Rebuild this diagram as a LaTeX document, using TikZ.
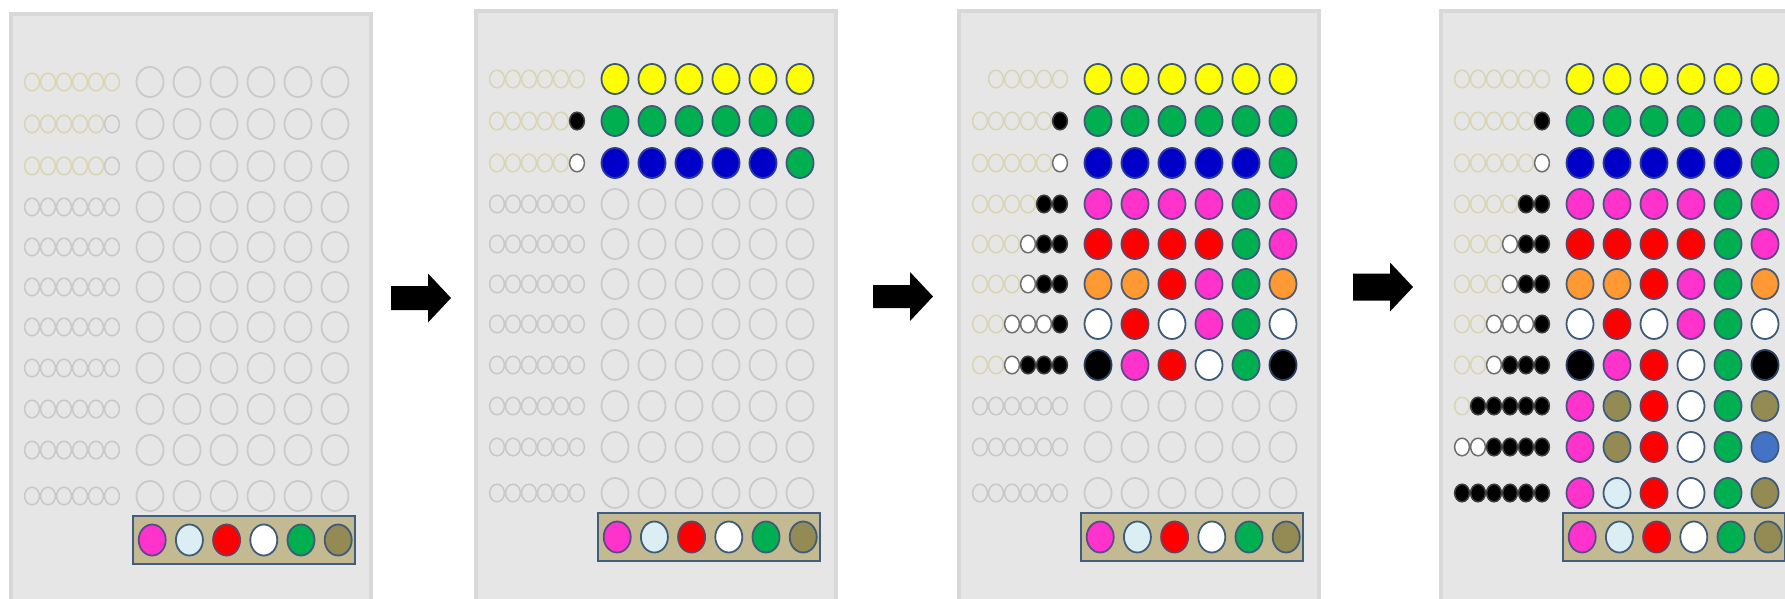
\documentclass[tikz,border=0pt]{standalone}
\definecolor{panelbg}{HTML}{E6E6E6}
\definecolor{panelbd}{HTML}{D8D8D8}
\definecolor{boxfill}{HTML}{C4BA92}
\definecolor{boxbd}{HTML}{3F5F82}
% big pegs: fill f?, outline d?
\definecolor{fY}{HTML}{FFFF00}\definecolor{dY}{HTML}{3E5B6B}
\definecolor{fG}{HTML}{00B050}\definecolor{dG}{HTML}{3E5B7B}
\definecolor{fB}{HTML}{0000C8}\definecolor{dB}{HTML}{2A3A9A}
\definecolor{fM}{HTML}{FF33CC}\definecolor{dM}{HTML}{5A4A8A}
\definecolor{fR}{HTML}{FF0000}\definecolor{dR}{HTML}{6A4060}
\definecolor{fO}{HTML}{FF9933}\definecolor{dO}{HTML}{4E5B70}
\definecolor{fW}{HTML}{FFFFFF}\definecolor{dW}{HTML}{3E5B7B}
\definecolor{fK}{HTML}{000000}\definecolor{dK}{HTML}{2A3F60}
\definecolor{fL}{HTML}{DAEEF3}\definecolor{dL}{HTML}{3E5B7B}
\definecolor{fV}{HTML}{948A54}\definecolor{dV}{HTML}{3E5B7B}
\definecolor{fS}{HTML}{4472C4}\definecolor{dS}{HTML}{3E5B7B}
\definecolor{fE}{HTML}{E6E6E6}\definecolor{dE}{HTML}{CACACA}
% key pegs
\definecolor{fkb}{HTML}{E6E6E6}\definecolor{dkb}{HTML}{D9D5B2}
\definecolor{fkg}{HTML}{E6E6E6}\definecolor{dkg}{HTML}{C8C8C8}
\definecolor{fkw}{HTML}{FFFFFF}\definecolor{dkw}{HTML}{707070}
\definecolor{fkk}{HTML}{000000}\definecolor{dkk}{HTML}{404040}
\definecolor{fkn}{HTML}{E6E6E6}\definecolor{dkn}{HTML}{E6E6E6}
\tikzset{
  keypeg/.style={line width=1.5pt},
  bigpeg/.style={line width=1.8pt},
  boardbox/.style={line width=4pt, draw=panelbd, fill=panelbg},
  codeframe/.style={line width=2pt, draw=boxbd, fill=boxfill},
  bigarrow/.style={fill=black}
}
\newcommand{\prow}[4]{%
  \foreach \kp [count=\n] in {#3} {\draw[keypeg, draw=dk\kp, fill=fk\kp] ({#1+16+16*\n},{#2}) ellipse [x radius=7.4pt, y radius=8.8pt];}
  \foreach \cp [count=\n] in {#4} {\draw[bigpeg, draw=d\cp, fill=f\cp] ({#1+113+37*\n},{#2}) ellipse [x radius=13.5pt, y radius=15pt];}
}
\newcommand{\board}[2]{\draw[boardbox] ({#1+11},{#2+11}) rectangle ({#1+371},{#2+640});}
\newcommand{\codebox}[2]{%
  \draw[codeframe] ({#1+133},{#2+513}) rectangle ({#1+355},{#2+561});
  \foreach \cp [count=\n] in {M,L,R,W,G,V} {\draw[bigpeg, draw=d\cp, fill=f\cp] ({#1+115+37.2*\n},{#2+537}) ellipse [x radius=13.5pt, y radius=15.5pt];}
}
\newcommand{\rarrow}[3]{\fill[bigarrow] ({#1},{#2-#3}) -- ({#1+37},{#2-#3}) -- ({#1+37},{#2-24.5}) -- ({#1+60},{#2}) -- ({#1+37},{#2+24.5}) -- ({#1+37},{#2+#3}) -- ({#1},{#2+#3}) -- cycle;}
\newcommand{\emptyrows}[3]{% ox oy from-row-list
  \foreach \yy in {#3} {\prow{#1}{#2+\yy}{g,g,g,g,g,g}{E,E,E,E,E,E}}
}
\begin{document}
\begin{tikzpicture}[x=1pt,y=-1pt]
\useasboundingbox (0,0) rectangle (1785,598);
\clip (0,0) rectangle (1785,598);
\fill[white] (0,0) rectangle (1785,598);
% ---------- panel 1 ----------
\board{0}{3}
\prow{0}{3+79}{b,b,b,b,b,b}{E,E,E,E,E,E}
\prow{0}{3+121}{b,b,b,b,b,g}{E,E,E,E,E,E}
\prow{0}{3+163}{b,b,b,b,b,g}{E,E,E,E,E,E}
\emptyrows{0}{3}{204,244,284,324,365,406,447,493}
\codebox{0}{3}
% ---------- panel 2 ----------
\board{465}{0}
\prow{465}{79}{b,b,b,b,b,b}{Y,Y,Y,Y,Y,Y}
\prow{465}{121}{b,b,b,b,b,k}{G,G,G,G,G,G}
\prow{465}{163}{b,b,b,b,b,w}{B,B,B,B,B,G}
\emptyrows{465}{0}{204,244,284,324,365,406,447,493}
\codebox{465}{0}
% ---------- panel 3 ----------
\board{948}{0}
\prow{948}{79}{n,b,b,b,b,b}{Y,Y,Y,Y,Y,Y}
\prow{948}{121}{b,b,b,b,b,k}{G,G,G,G,G,G}
\prow{948}{163}{b,b,b,b,b,w}{B,B,B,B,B,G}
\prow{948}{204}{b,b,b,b,k,k}{M,M,M,M,G,M}
\prow{948}{244}{b,b,b,w,k,k}{R,R,R,R,G,M}
\prow{948}{284}{b,b,b,w,k,k}{O,O,R,M,G,O}
\prow{948}{324}{b,b,w,w,w,k}{W,R,W,M,G,W}
\prow{948}{365}{b,b,w,k,k,k}{K,M,R,W,G,K}
\emptyrows{948}{0}{406,447,493}
\codebox{948}{0}
% ---------- panel 4 ----------
\board{1430}{0}
\prow{1430}{79}{b,b,b,b,b,b}{Y,Y,Y,Y,Y,Y}
\prow{1430}{121}{b,b,b,b,b,k}{G,G,G,G,G,G}
\prow{1430}{163}{b,b,b,b,b,w}{B,B,B,B,B,G}
\prow{1430}{204}{b,b,b,b,k,k}{M,M,M,M,G,M}
\prow{1430}{244}{b,b,b,w,k,k}{R,R,R,R,G,M}
\prow{1430}{284}{b,b,b,w,k,k}{O,O,R,M,G,O}
\prow{1430}{324}{b,b,w,w,w,k}{W,R,W,M,G,W}
\prow{1430}{365}{b,b,w,k,k,k}{K,M,R,W,G,K}
\prow{1430}{406}{b,k,k,k,k,k}{M,V,R,W,G,V}
\prow{1430}{447}{w,w,k,k,k,k}{M,V,R,W,G,S}
\prow{1430}{493}{k,k,k,k,k,k}{M,L,R,W,G,V}
\codebox{1430}{0}
% ---------- arrows ----------
\rarrow{391}{298}{12}
\rarrow{873}{296.5}{11.5}
\rarrow{1353}{287}{13.5}
\end{tikzpicture}
\end{document}
